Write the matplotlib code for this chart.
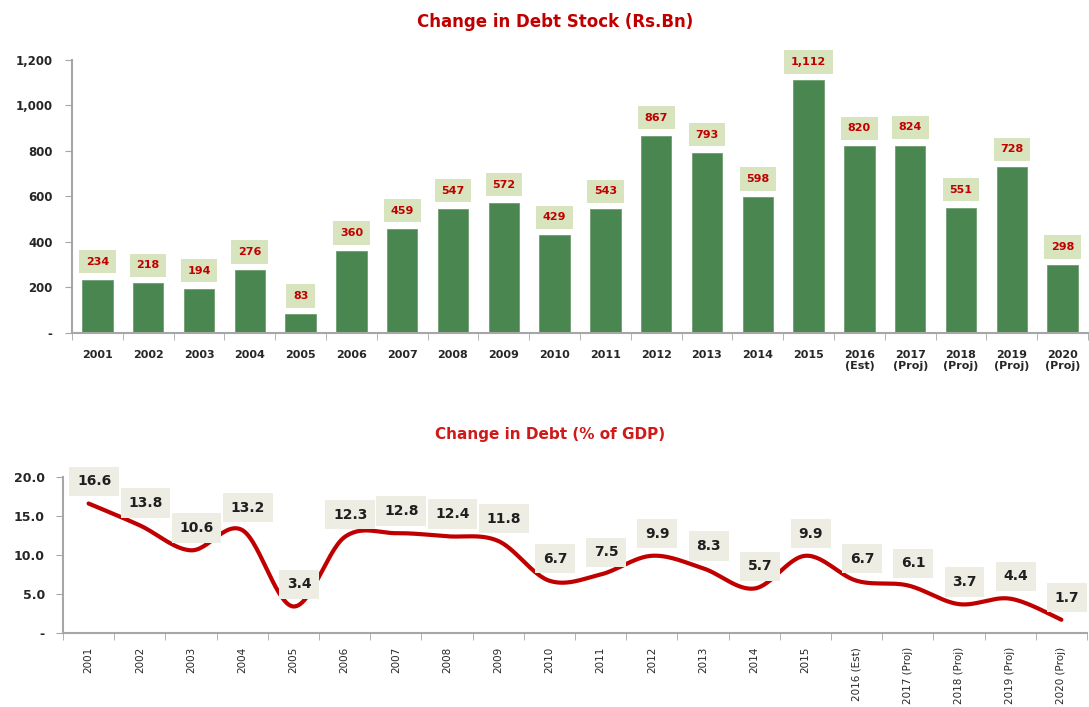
import numpy as np
import matplotlib
matplotlib.use("Agg")
import matplotlib.pyplot as plt

years = ["2001", "2002", "2003", "2004", "2005", "2006", "2007", "2008", "2009", "2010",
         "2011", "2012", "2013", "2014", "2015", "2016", "2017", "2018", "2019", "2020"]
suffix = ["", "", "", "", "", "", "", "", "", "", "", "", "", "", "", "(Est)", "(Proj)", "(Proj)", "(Proj)", "(Proj)"]
debt_stock = [234, 218, 194, 276, 83, 360, 459, 547, 572, 429,
              543, 867, 793, 598, 1112, 820, 824, 551, 728, 298]
debt_gdp = [16.6, 13.8, 10.6, 13.2, 3.4, 12.3, 12.8, 12.4, 11.8, 6.7,
            7.5, 9.9, 8.3, 5.7, 9.9, 6.7, 6.1, 3.7, 4.4, 1.7]

top_labels = [y + ("\n" + s if s else "") for y, s in zip(years, suffix)]
bot_labels = [y + (" " + s if s else "") for y, s in zip(years, suffix)]

plt.rcParams['font.family'] = ['DejaVu Sans']
fig = plt.figure(figsize=(10.89, 7.07), dpi=100)

spine_c = "#A6A6A6"
tick_c = "#262626"
bar_c = "#4A8650"
red = "#C00000"

# ---- Top chart ----
ax1 = fig.add_axes([72/1089, 1-333/707, 1016/1089, (333-60)/707])
x = np.arange(len(years))
ax1.bar(x, debt_stock, width=0.6, color=bar_c, edgecolor="#6E9E70", linewidth=0.6, zorder=2)
ax1.set_xlim(-0.5, len(years)-0.5)
ax1.set_ylim(0, 1200)
ax1.set_yticks(np.arange(0, 1201, 200))
ax1.set_yticklabels(["-"] + [f"{v:,}" for v in range(200, 1201, 200)])
ax1.set_xticks(x)
ax1.set_xticklabels(top_labels, fontsize=8, fontweight="bold", color=tick_c)
ax1.set_xticks(np.arange(-0.5, len(years), 1), minor=True)
ax1.tick_params(axis="x", which="major", length=0, pad=12)
ax1.tick_params(axis="x", which="minor", length=5, color=spine_c, direction="out")
ax1.tick_params(axis="y", labelsize=8.5, colors=tick_c, length=5, color=spine_c, pad=9)
for lbl in ax1.get_yticklabels():
    lbl.set_fontweight("bold")
for s in ["top", "right"]:
    ax1.spines[s].set_visible(False)
for s in ["left", "bottom"]:
    ax1.spines[s].set_color(spine_c)
    ax1.spines[s].set_linewidth(1.5)
for xi, v in zip(x, debt_stock):
    ax1.annotate(f"{v:,}", (xi, v), xytext=(0, 13), textcoords="offset points",
                 ha="center", va="center", fontsize=8, fontweight="bold", color=red,
                 bbox=dict(boxstyle="square,pad=0.6", fc="#D7E4BD", ec="none"), zorder=3)
fig.text(555/1089, 1-22/707, "Change in Debt Stock (Rs.Bn)", ha="center", va="center",
         fontsize=12, fontweight="bold", color=red)

# ---- Bottom chart ----
ax2 = fig.add_axes([63/1089, 1-633/707, 1024/1089, (633-477)/707])
ax2.set_xlim(-0.5, len(years)-0.5)
ax2.set_ylim(0, 20)

# smooth curve (Catmull-Rom style Bezier as in spreadsheet smoothing)
P = np.column_stack([x.astype(float), np.array(debt_gdp)])
pts = []
n = len(P)
t = np.linspace(0, 1, 30)
for i in range(n-1):
    p0 = P[i-1] if i > 0 else P[i]
    p1 = P[i]
    p2 = P[i+1]
    p3 = P[i+2] if i+2 < n else P[i+1]
    c1 = p1 + (p2 - p0) / 6.0
    c2 = p2 - (p3 - p1) / 6.0
    seg = ((1-t)**3)[:, None]*p1 + (3*(1-t)**2*t)[:, None]*c1 + (3*(1-t)*t**2)[:, None]*c2 + (t**3)[:, None]*p2
    pts.append(seg)
curve = np.vstack(pts)
ax2.plot(curve[:, 0], curve[:, 1], color="#C00000", linewidth=3, solid_capstyle="round", zorder=2)

ax2.set_yticks([0, 5, 10, 15, 20])
ax2.set_yticklabels(["-", "5.0", "10.0", "15.0", "20.0"])
ax2.set_xticks(x)
ax2.set_xticklabels(bot_labels, rotation=90, fontsize=7.5, color=tick_c)
ax2.set_xticks(np.arange(-0.5, len(years), 1), minor=True)
ax2.tick_params(axis="x", which="major", length=0, pad=10)
ax2.tick_params(axis="x", which="minor", length=5, color=spine_c, direction="out")
ax2.tick_params(axis="y", labelsize=9, colors=tick_c, length=5, color=spine_c, pad=8)
for lbl in ax2.get_yticklabels():
    lbl.set_fontweight("bold")
for s in ["top", "right"]:
    ax2.spines[s].set_visible(False)
for s in ["left", "bottom"]:
    ax2.spines[s].set_color(spine_c)
    ax2.spines[s].set_linewidth(1.5)
for xi, v in zip(x, debt_gdp):
    ax2.annotate(f"{v:.1f}", (xi, v), xytext=(4, 16), textcoords="offset points",
                 ha="center", va="center", fontsize=10, fontweight="bold", color="#1F1F1F",
                 bbox=dict(boxstyle="square,pad=0.55", fc="#EEEDE4", ec="none"), zorder=3,
                 annotation_clip=False)
fig.text(550/1089, 1-435/707, "Change in Debt (% of GDP)", ha="center", va="center",
         fontsize=11, fontweight="bold", color="#D01A1A")

fig.savefig("out.png", dpi=100)
